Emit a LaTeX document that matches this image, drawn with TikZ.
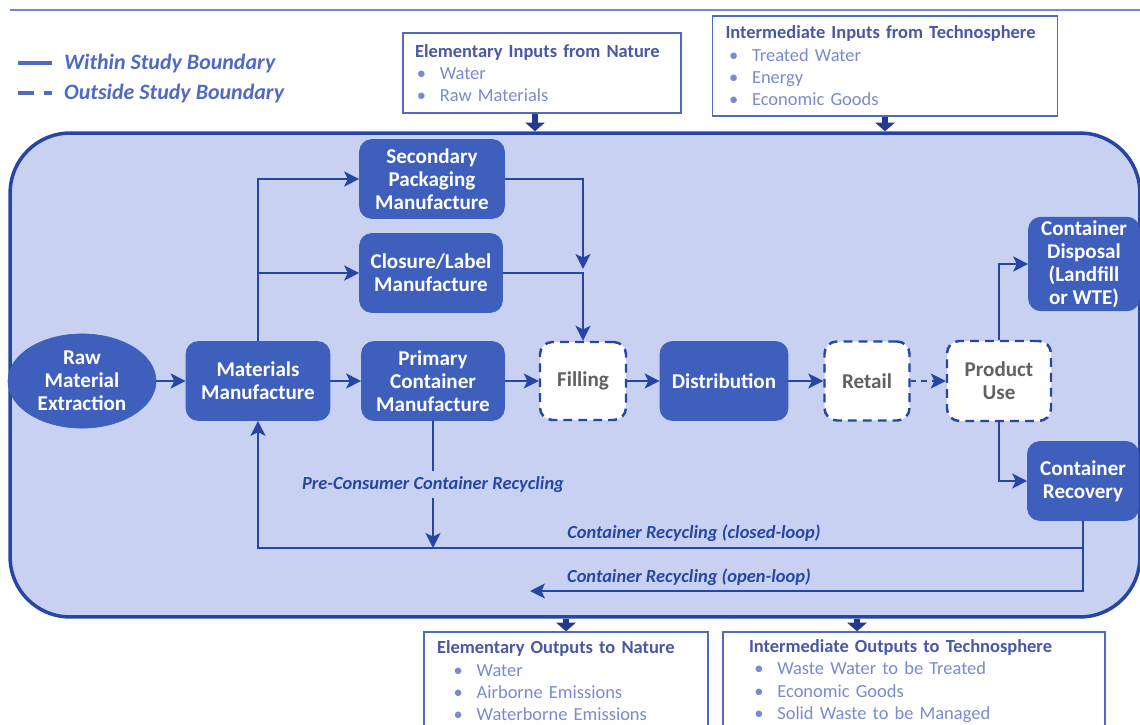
\documentclass[tikz,border=0pt]{standalone}
\usepackage{fontspec}
\setmainfont{Carlito}
\usepackage{tikz}
\usetikzlibrary{arrows.meta,shapes.geometric}

\definecolor{procblue}{RGB}{62,95,188}
\definecolor{linkblue}{RGB}{38,70,165}
\definecolor{zoneblue}{RGB}{200,209,242}
\definecolor{inkblue}{RGB}{80,106,194}
\definecolor{titleblue}{RGB}{72,88,165}
\definecolor{listblue}{RGB}{122,138,208}
\definecolor{stubblue}{RGB}{36,56,140}

\tikzset{
  proc/.style={draw=procblue, fill=procblue, rounded corners=7pt, text=white,
    font=\bfseries\fontsize{12}{13}\selectfont, align=center,
    minimum width=2.88cm, minimum height=1.58cm, inner sep=2pt},
  outproc/.style={proc, fill=white, text=black!62, draw=linkblue, line width=1.4pt,
    dash pattern=on 5pt off 3.5pt},
  flow/.style={-{Stealth[length=8.5pt,width=8.5pt,inset=2pt]}, linkblue, line width=1.3pt},
  stub/.style={-{Triangle[length=5pt,width=11pt]}, stubblue, line width=3.5pt},
  infobox/.style={draw=inkblue, fill=white, line width=0.7pt, align=left,
    font=\fontsize{10.5}{12.7}\selectfont, anchor=center},
  looplabel/.style={text=linkblue, font=\bfseries\itshape\fontsize{10.5}{12}\selectfont},
  legendtext/.style={text=inkblue, font=\bfseries\itshape\fontsize{12.5}{14}\selectfont, anchor=west},
}

\newcommand{\infotitle}[1]{{\color{titleblue}\bfseries #1}}
\newcommand{\infoitem}[2]{\hspace*{#1}{\color{listblue}\textbullet\hspace{0.75em}#2}}

\begin{document}
\begin{tikzpicture}[x=0.02cm,y=-0.02cm]
  \useasboundingbox (0,0) rectangle (1140,724);

  % top rule and legend
  \draw[inkblue!80, line width=0.8pt] (10,10) -- (1140,10);
  \draw[inkblue, line width=1.8pt] (18,63) -- (52,63);
  \node[legendtext] (legsolid) at (58,64) {Within Study Boundary};
  \draw[inkblue, line width=1.8pt, dash pattern=on 9pt off 6pt] (18,93) -- (52,93);
  \node[legendtext] (legdash) at (58,94) {Outside Study Boundary};

  % study boundary
  \node[draw=linkblue, fill=zoneblue, line width=2pt, rounded corners=1.2cm,
    minimum width=22.6cm, minimum height=9.68cm] (zone) at (575,375) {};

  % inputs and outputs
  \node[infobox, minimum width=5.56cm, minimum height=1.6cm, text width=5.08cm] (inNature) at (542,73)
    {\infotitle{Elementary Inputs from Nature}\\ \infoitem{1pt}{Water}\\ \infoitem{1pt}{Raw Materials}};
  \node[infobox, minimum width=6.9cm, minimum height=2cm, text width=6.38cm] (inTechno) at (885,66)
    {\infotitle{Intermediate Inputs from Technosphere}\\ \infoitem{2pt}{Treated Water}\\ \infoitem{2pt}{Energy}\\ \infoitem{2pt}{Economic Goods}};
  \node[infobox, minimum width=5.68cm, minimum height=1.96cm, text width=5.16cm] (outNature) at (566,681)
    {\infotitle{Elementary Outputs to Nature}\\ \infoitem{9.5pt}{Water}\\ \infoitem{9.5pt}{Airborne Emissions}\\ \infoitem{9.5pt}{Waterborne Emissions}};
  \node[infobox, minimum width=7.64cm, minimum height=1.96cm, text width=6.6cm] (outTechno) at (914,681)
    {\infotitle{Intermediate Outputs to Technosphere}\\ \infoitem{3pt}{Waste Water to be Treated}\\ \infoitem{3pt}{Economic Goods}\\ \infoitem{3pt}{Solid Waste to be Managed}};

  \coordinate (natIn) at ([xshift=-0.14cm]inNature.south);
  \coordinate (techIn) at (inTechno.south);
  \coordinate (natOut) at (outNature.north);
  \coordinate (techOut) at ([xshift=-1.14cm]outTechno.north);
  \draw[stub] (natIn) -- (natIn |- zone.north);
  \draw[stub] (techIn) -- (techIn |- zone.north);
  \draw[stub] (natOut |- zone.south) -- (natOut);
  \draw[stub] (techOut |- zone.south) -- (techOut);

  % life cycle stages
  \node[proc, ellipse, rounded corners=0pt, minimum width=2.96cm, minimum height=1.84cm] (raw) at (82,381) {Raw\\Material\\Extraction};
  \node[proc] (matman) at (258,381) {Materials\\Manufacture};
  \node[proc, minimum width=2.9cm] (secpack) at (432,179) {Secondary\\Packaging\\Manufacture};
  \node[proc, minimum width=2.86cm] (closure) at (431,273) {Closure/Label\\Manufacture};
  \node[proc, minimum width=2.86cm] (primary) at (433,381) {Primary\\Container\\Manufacture};
  \node[outproc, minimum width=1.72cm, minimum height=1.56cm] (filling) at (583,381) {Filling};
  \node[proc, minimum width=2.56cm] (distrib) at (724,381) {Distribution};
  \node[outproc, minimum width=1.7cm] (retail) at (867,381) {Retail};
  \node[outproc, minimum width=2.08cm, minimum height=1.6cm] (use) at (999,381) {Product\\Use};
  \node[proc, minimum width=2.22cm, minimum height=1.84cm] (disposal) at (1084,264) {Container\\Disposal\\(Landfill\\or WTE)};
  \node[proc, minimum width=2.22cm] (recovery) at (1083,481) {Container\\Recovery};

  % flows
  \draw[flow] (raw) -- (matman);
  \draw[flow] (matman) -- (primary);
  \draw[flow] (matman.north) |- (secpack.west);
  \draw[flow] (matman.north) |- (closure.west);
  \coordinate (merge) at (filling.north |- closure.east);
  \draw[flow] (secpack.east) -| ([yshift=0.08cm]merge);
  \draw[flow] (closure.east) -| (filling.north);
  \draw[flow] (primary) -- (filling);
  \draw[flow] (filling) -- (distrib);
  \draw[flow] (distrib) -- (retail);
  \draw[flow, dashed] (retail) -- (use);
  \draw[flow] (use.north) |- (disposal.west);
  \draw[flow] (use.south) |- (recovery.west);

  % recycling loops
  \coordinate (closedrun) at (0,548);
  \coordinate (openend) at (530,591);
  \draw[flow] (primary.south) -- (primary.south |- closedrun)
    node[midway, fill=zoneblue, inner sep=3pt, looplabel] (prelbl) {Pre-Consumer Container Recycling};
  \draw[flow] (recovery.south) |- (matman.south |- closedrun) -- (matman.south);
  \draw[flow] (recovery.south) |- (openend);
  \node[looplabel] (closedlbl) at (694,533) {Container Recycling (closed-loop)};
  \node[looplabel] (openlbl) at (689,577) {Container Recycling (open-loop)};
\end{tikzpicture}
\end{document}
